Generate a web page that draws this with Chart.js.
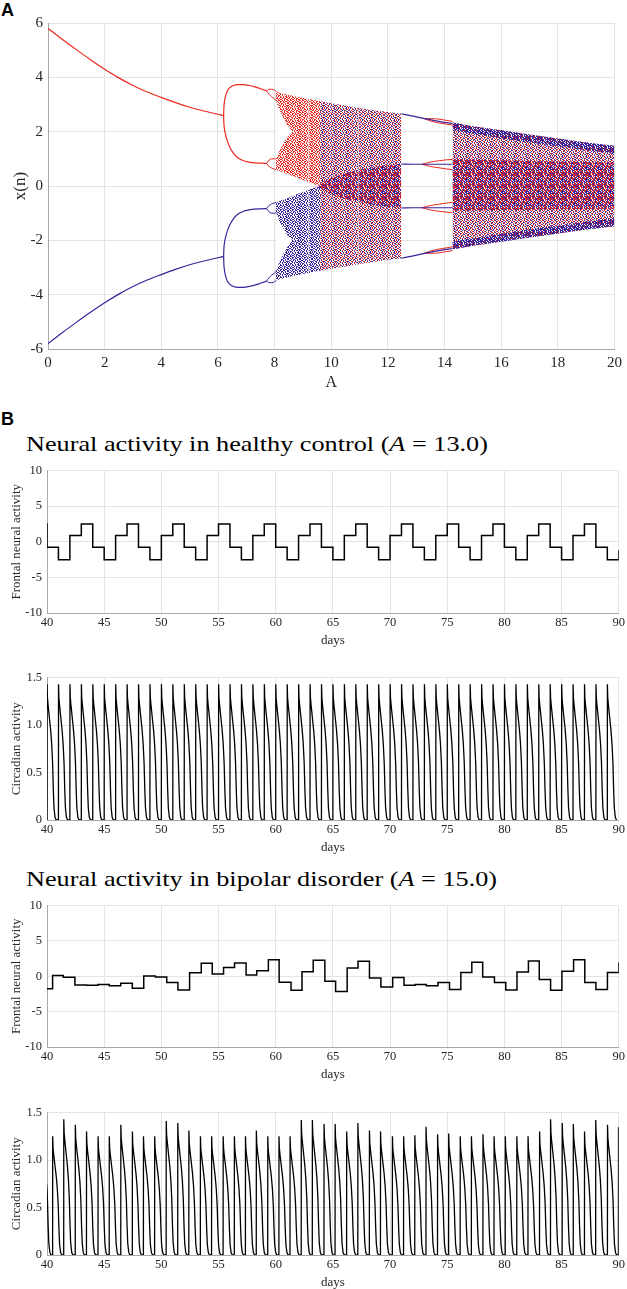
<!DOCTYPE html>
<html><head><meta charset="utf-8">
<script src="https://cdn.jsdelivr.net/npm/chart.js@4.4.1/dist/chart.umd.min.js"></script>
<style>
html,body{margin:0;padding:0;background:#fff;}
body{width:627px;height:1289px;position:relative;overflow:hidden;}
canvas{position:absolute;left:0;}
.lbl{position:absolute;font-family:"Liberation Sans",Arial,sans-serif;font-weight:bold;font-size:18px;color:#000;line-height:1;}
.ttl{position:absolute;font-family:"Liberation Serif","Times New Roman",serif;font-size:22px;color:#000;white-space:nowrap;line-height:1;transform-origin:0 50%;}
</style></head><body>
<div class="lbl" style="left:1px;top:1px;">A</div>
<div class="lbl" style="left:1px;top:410px;">B</div>
<div class="ttl" data-w="462" style="left:26px;top:433px;">Neural activity in healthy control (<i>A</i> = 13.0)</div>
<div class="ttl" data-w="471" style="left:26px;top:868px;">Neural activity in bipolar disorder (<i>A</i> = 15.0)</div>
<canvas id="cA" width="627" height="397" style="top:0px"></canvas>
<canvas id="cB1" width="627" height="195" style="top:458px"></canvas>
<canvas id="cB2" width="627" height="195" style="top:665px"></canvas>
<canvas id="cB3" width="627" height="194" style="top:893px"></canvas>
<canvas id="cB4" width="627" height="195" style="top:1100px"></canvas>
<script>
// ---------------- Panel A data (bifurcation diagram) ----------------
const p1A     = [0, 0.5, 1, 1.5, 2, 2.5, 3, 3.5, 4, 4.5, 5, 5.5, 6, 6.2];
const p1Red   = [5.8, 5.4, 5.02, 4.65, 4.3, 3.98, 3.7, 3.46, 3.26, 3.07, 2.9, 2.76, 2.64, 2.59];
const p1Blue  = [-5.8, -5.4, -5.02, -4.65, -4.3, -3.98, -3.7, -3.46, -3.26, -3.07, -2.9, -2.76, -2.64, -2.59];

const p2A      = [6.2, 6.21, 6.23, 6.27, 6.33, 6.42, 6.55, 6.7, 6.9, 7.1, 7.3, 7.5, 7.72];
const p2RedHi  = [2.59, 2.9, 3.1, 3.32, 3.5, 3.62, 3.7, 3.73, 3.73, 3.7, 3.65, 3.58, 3.5];
const p2RedLo  = [2.59, 2.3, 2.1, 1.88, 1.66, 1.43, 1.2, 1.04, 0.93, 0.88, 0.85, 0.84, 0.83];
const p2BlueHi = [-2.59, -2.3, -2.1, -1.88, -1.66, -1.43, -1.2, -1.04, -0.93, -0.88, -0.85, -0.84, -0.83];
const p2BlueLo = [-2.59, -2.9, -3.1, -3.32, -3.5, -3.62, -3.7, -3.73, -3.73, -3.7, -3.65, -3.58, -3.5];

const p4A         = [7.72, 7.8, 7.9, 8.0, 8.05];
const p4RedTopHi  = [3.5, 3.56, 3.56, 3.52, 3.48];
const p4RedTopLo  = [3.5, 3.38, 3.28, 3.2, 3.15];
const p4RedBotHi  = [0.83, 0.95, 1.0, 1.0, 0.98];
const p4RedBotLo  = [0.83, 0.72, 0.66, 0.62, 0.6];
const p4BlueTopHi = [-0.83, -0.72, -0.66, -0.62, -0.6];
const p4BlueTopLo = [-0.83, -0.95, -1.0, -1.0, -0.98];
const p4BlueBotHi = [-3.5, -3.38, -3.28, -3.2, -3.15];
const p4BlueBotLo = [-3.5, -3.56, -3.56, -3.52, -3.48];

const c1A       = [8.04, 8.3, 8.5, 8.7, 8.9, 9.1, 9.3, 9.5, 9.6];
const c1RedTop  = [3.48, 3.4, 3.35, 3.3, 3.26, 3.22, 3.18, 3.14, 3.12];
const c1RedBot  = [0.6, 0.5, 0.42, 0.34, 0.26, 0.18, 0.1, 0.03, 0.0];
const c1BlueTop = [-0.6, -0.5, -0.42, -0.34, -0.26, -0.18, -0.1, -0.03, 0.0];
const c1BlueBot = [-3.48, -3.4, -3.35, -3.3, -3.26, -3.22, -3.18, -3.14, -3.12];

const wedgeA       = [8.04, 8.15, 8.3, 8.45, 8.62];
const wedgeRedHi   = [3.15, 2.85, 2.5, 2.25, 2.0];
const wedgeRedLo   = [0.98, 1.25, 1.55, 1.8, 2.0];
const wedgeBlueHi  = [-0.98, -1.25, -1.55, -1.8, -2.0];
const wedgeBlueLo  = [-3.15, -2.85, -2.5, -2.25, -2.0];

const stripe1A      = [9.17, 9.23];
const stripe1RedHi  = [3.2, 3.19];
const stripe1RedLo  = [0.17, 0.14];
const stripe1BlueHi = [-0.17, -0.14];
const stripe1BlueLo = [-3.2, -3.19];
const stripe2A      = [10.93, 10.99];
const stripe2Hi     = [2.84, 2.83];
const stripe2Lo     = [-2.84, -2.83];

const c2A      = [9.55, 10, 10.5, 11, 11.5, 12, 12.47];
const c2Top    = [3.13, 3.05, 2.96, 2.87, 2.79, 2.72, 2.66];
const c2Bot    = [-3.13, -3.05, -2.96, -2.87, -2.79, -2.72, -2.66];
const c2InTop  = [0.05, 0.3, 0.47, 0.6, 0.7, 0.77, 0.82];
const c2InBot  = [-0.05, -0.3, -0.47, -0.6, -0.7, -0.77, -0.82];

const wA      = [12.47, 12.9, 13.3, 13.7, 14.0, 14.28];
const wTop    = [2.66, 2.57, 2.48, 2.4, 2.34, 2.3];
const wMidHi  = [0.81, 0.8, 0.8, 0.8, 0.8, 0.8];
const wMidLo  = [-0.81, -0.8, -0.8, -0.8, -0.8, -0.8];
const wBot    = [-2.66, -2.57, -2.48, -2.4, -2.34, -2.3];
const wlA       = [13.2, 13.5, 13.8, 14.05, 14.28];
const wlUpHi    = [0.8, 0.88, 0.93, 0.96, 0.98];
const wlUpLo    = [0.8, 0.72, 0.67, 0.63, 0.6];
const wlDnHi    = [-0.8, -0.72, -0.67, -0.63, -0.6];
const wlDnLo    = [-0.8, -0.88, -0.93, -0.96, -0.98];
const wtA       = [13.3, 13.55, 13.8, 14.05, 14.28];
const wtUpHi    = [2.47, 2.48, 2.46, 2.42, 2.38];
const wtUpLo    = [2.47, 2.38, 2.32, 2.28, 2.24];
const wtDnHi    = [-2.47, -2.38, -2.32, -2.28, -2.24];
const wtDnLo    = [-2.47, -2.48, -2.46, -2.42, -2.38];

const c3A        = [14.28, 15, 16, 17, 18, 19, 20];
const c3Top      = [2.34, 2.2, 2.05, 1.9, 1.75, 1.6, 1.48];
const c3TopIn    = [2.05, 1.92, 1.76, 1.6, 1.46, 1.32, 1.2];
const c3InTop    = [1.0, 0.98, 0.95, 0.92, 0.9, 0.88, 0.86];
const c3InBot    = [-0.9, -0.9, -0.88, -0.87, -0.86, -0.85, -0.84];
const c3BotIn    = [-2.05, -1.92, -1.76, -1.6, -1.46, -1.32, -1.2];
const c3Bot      = [-2.34, -2.2, -2.05, -1.9, -1.75, -1.6, -1.48];

const aTicks = {xmin: 0, xmax: 20, xstep: 2, ymin: -6, ymax: 6, ystep: 2};

// ---------------- Panel B data ----------------
// healthy frontal: step levels at integer days (level held from that day)
const days1 = [39,40,41,42,43,44,45,46,47,48,49,50,51,52,53,54,55,56,57,58,59,60,61,62,63,64,65,66,67,68,69,70,71,72,73,74,75,76,77,78,79,80,81,82,83,84,85,86,87,88,89,90];
const frontal1 = [2.49,
 -0.76,-2.53,0.89,2.49, -0.76,-2.53,0.89,2.49, -0.76,-2.53,0.89,2.49, -0.76,-2.53,0.89,2.49,
 -0.76,-2.53,0.89,2.49, -0.76,-2.53,0.89,2.49, -0.76,-2.53,0.89,2.49, -0.76,-2.53,0.89,2.49,
 -0.76,-2.53,0.89,2.49, -0.76,-2.53,0.89,2.49, -0.76,-2.53,0.89,2.49, -0.76,-2.53,0.89,2.49,
 -0.76,-2.53,-1.2];
// healthy circadian: pulse onset days and peak heights
const spikeDays1 = [40,41,42,43,44,45,46,47,48,49,50,51,52,53,54,55,56,57,58,59,60,61,62,63,64,65,66,67,68,69,70,71,72,73,74,75,76,77,78,79,80,81,82,83,84,85,86,87,88,89];
const spikeHeights1 = [1.43,1.43,1.43,1.43,1.43,1.43,1.43,1.43,1.43,1.43,1.43,1.43,1.43,1.43,1.43,1.43,1.43,1.43,1.43,1.43,1.43,1.43,1.43,1.43,1.43,1.43,1.43,1.43,1.43,1.43,1.43,1.43,1.43,1.43,1.43,1.43,1.43,1.43,1.43,1.43,1.43,1.43,1.43,1.43,1.43,1.43,1.43,1.43,1.43,1.43];
// bipolar frontal: step times and levels
const days2 = [40,40.49,41.42,42.44,43.45,44.46,45.45,46.45,47.46,48.46,49.48,50.47,51.45,52.47,53.49,54.45,55.44,56.4,57.41,58.34,59.36,60.3,61.34,62.3,63.28,64.3,65.24,66.25,67.2,68.2,69.2,70.23,71.22,72.2,73.17,74.19,75.2,76.19,77.15,78.1,79.13,80.12,81.1,82.1,83.05,84.04,85.03,86.05,87.03,88,89.01,90];
const frontal2 = [-1.76,0.09,-0.14,-1.22,-1.26,-1.17,-1.35,-0.99,-1.71,0.05,-0.09,-0.9,-1.94,0.5,1.85,0.32,1.22,1.89,0.18,0.77,2.34,-0.86,-1.98,0.63,2.25,-0.72,-2.16,1.17,2.12,-0.23,-1.53,-0.18,-1.26,-1.17,-1.35,-0.9,-1.89,0.54,1.98,-0.09,-0.9,-1.94,0.59,2.16,-0.45,-1.98,0.72,2.34,-0.9,-1.89,0.54,1.94];
// bipolar circadian
const spikeDays2 = [39.55,40.49,41.46,42.47,43.45,44.46,45.44,46.45,47.46,48.43,49.41,50.42,51.43,52.4,53.41,54.39,55.4,56.38,57.35,58.3,59.3,60.28,61.25,62.23,63.2,64.22,65.19,66.2,67.18,68.19,69.16,70.2,71.18,72.16,73.14,74.15,75.12,76.13,77.11,78.12,79.09,80.07,81.08,82.06,83.07,84.03,85.05,86.02,87.0,87.98,89.01,89.97];
const spikeHeights2 = [1.35,1.25,1.43,1.37,1.30,1.25,1.25,1.37,1.30,1.25,1.25,1.41,1.39,1.31,1.25,1.25,1.25,1.25,1.25,1.31,1.25,1.25,1.25,1.42,1.42,1.38,1.38,1.30,1.39,1.31,1.30,1.25,1.25,1.26,1.35,1.27,1.28,1.25,1.25,1.27,1.25,1.25,1.25,1.25,1.30,1.43,1.39,1.38,1.30,1.42,1.37,1.34];
// shape of one circadian pulse (days after onset, fraction of peak)
const spikeOffsets = [0, 0.008, 0.04, 0.09, 0.2, 0.32, 0.41, 0.49, 0.55, 0.61, 0.7, 0.8];
const spikeShape   = [0, 1, 0.9, 0.85, 0.76, 0.66, 0.56, 0.42, 0.23, 0.09, 0.02, 0];

const frontalTicks = {min: -10, max: 10, step: 5};
const circTicks = {min: 0, max: 1.5, step: 0.5};
const dayTicks = {min: 40, max: 90, step: 5};

// ---------------- helpers ----------------
const RED = '#ea2a1f', BLUE = '#38239a';
const SERIF = '"Liberation Serif","Times New Roman",serif';
function pts(xs, ys) { return xs.map((x, i) => ({x: x, y: ys[i]})); }
function tile(rows, map) {
  const c = document.createElement('canvas');
  c.width = rows[0].length; c.height = rows.length;
  const g = c.getContext('2d');
  rows.forEach((r, y) => { for (let x = 0; x < r.length; x++) { const col = map[r[x]]; if (col) { g.fillStyle = col; g.fillRect(x, y, 1, 1); } } });
  return g.createPattern(c, 'repeat');
}
const lightRows = [
"r.b.r..b.rb.",
".b..rb.r..br",
"br.r..b.br..",
"..b.rb..r.bb",
"r.rb..r.b..r",
".b..br.r.rb.",
"b.r.r..bb..r",
"r..b.rb..r.b",
".rb..b.r.b..",
"b..rr..b..rb",
".b..b.r.rb.r",
"r.br..b...b."];
const denseRows = [
"rb..brbr.bb.",
"b.rb.b.rb..b",
"r..brrb.bbr.",
".rb..br.b.rb",
"br.rbb..rbr.",
"r.b.r.br..bb",
"bb..rb..brr.",
".rbr..rbb.rb",
"rb.b.r.b.br.",
"b.r.b.rbr..b",
".br.br.b.rbr",
"b..r.rb.rb.b"];
const patRed = tile(lightRows, {r: RED, b: RED});
const patBlue = tile(lightRows, {r: BLUE, b: BLUE});
const patMix = tile(lightRows, {r: RED, b: BLUE});
const patDense = tile(denseRows, {r: RED, b: BLUE});
const patDenseBlue = tile(denseRows, {r: BLUE, b: BLUE});

function line(xs, ys, color, w) {
  return {data: pts(xs, ys), borderColor: color, borderWidth: w || 1.2, pointRadius: 0, fill: false, cubicInterpolationMode: 'monotone'};
}
function band(xs, top, bot, pattern) {
  return [
    {data: pts(xs, top), borderColor: 'rgba(0,0,0,0)', borderWidth: 0, pointRadius: 0, backgroundColor: pattern, fill: '+1'},
    {data: pts(xs, bot), borderColor: 'rgba(0,0,0,0)', borderWidth: 0, pointRadius: 0, fill: false}
  ];
}
function axisCfg(o) {
  return {
    type: 'linear', min: o.min, max: o.max,
    afterFit: o.fit,
    grid: {color: '#e4e4e4', drawTicks: false, lineWidth: 1},
    border: {display: true, color: '#a8a8a8', width: 1},
    ticks: {stepSize: o.step, autoSkip: false, maxRotation: 0, padding: o.tickPad, color: '#262626', font: {family: SERIF, size: o.tickSize}},
    title: {display: true, text: o.title, color: '#262626', font: {family: SERIF, size: o.titleSize}, padding: o.titlePad}
  };
}
function makeChart(id, datasets, xo, yo, pad) {
  return new Chart(document.getElementById(id), {
    type: 'line',
    data: {datasets: datasets},
    options: {
      responsive: false, animation: false, events: [],
      layout: {padding: pad},
      plugins: {legend: {display: false}, tooltip: {enabled: false}, title: {display: false}},
      elements: {point: {radius: 0}},
      scales: {x: axisCfg(xo), y: axisCfg(yo)}
    }
  });
}
function spikeSeries(days, heights) {
  const out = [];
  days.forEach((t, i) => spikeOffsets.forEach((o, k) => out.push({x: t + o, y: heights[i] * spikeShape[k]})));
  return out;
}

// ---------------- Panel A chart ----------------
const WHITE = '#ffffff', HALFWHITE = 'rgba(255,255,255,0.55)';
const dsA = [
  line(p1A, p1Red, RED), line(p1A, p1Blue, BLUE),
  line(p2A, p2RedHi, RED), line(p2A, p2RedLo, RED), line(p2A, p2BlueHi, BLUE), line(p2A, p2BlueLo, BLUE),
  line(p4A, p4RedTopHi, RED, 1), line(p4A, p4RedTopLo, RED, 1), line(p4A, p4RedBotHi, RED, 1), line(p4A, p4RedBotLo, RED, 1),
  line(p4A, p4BlueTopHi, BLUE, 1), line(p4A, p4BlueTopLo, BLUE, 1), line(p4A, p4BlueBotHi, BLUE, 1), line(p4A, p4BlueBotLo, BLUE, 1),
  line(wA, wTop, BLUE), line(wA, wMidHi, BLUE), line(wA, wMidLo, BLUE), line(wA, wBot, BLUE),
  line(wlA, wlUpHi, RED, 1), line(wlA, wlUpLo, RED, 1), line(wlA, wlDnHi, RED, 1), line(wlA, wlDnLo, RED, 1),
  line(wtA, wtUpHi, RED, 1), line(wtA, wtUpLo, RED, 1), line(wtA, wtDnHi, RED, 1), line(wtA, wtDnLo, RED, 1),
  ...band(wedgeA, wedgeRedHi, wedgeRedLo, WHITE),
  ...band(wedgeA, wedgeBlueHi, wedgeBlueLo, WHITE),
  ...band(stripe1A, stripe1RedHi, stripe1RedLo, HALFWHITE),
  ...band(stripe1A, stripe1BlueHi, stripe1BlueLo, HALFWHITE),
  ...band(stripe2A, stripe2Hi, stripe2Lo, HALFWHITE),
  ...band(c3A, c3Top, c3TopIn, patDenseBlue),
  ...band(c3A, c3BotIn, c3Bot, patDenseBlue),
  ...band(c3A, c3InTop, c3InBot, patDense),
  ...band(c2A, c2InTop, c2InBot, patDense),
  ...band(c1A, c1RedTop, c1RedBot, patRed),
  ...band(c1A, c1BlueTop, c1BlueBot, patBlue),
  ...band(c2A, c2Top, c2Bot, patMix),
  ...band(c3A, c3Top, c3Bot, patMix)
];
makeChart('cA', dsA,
  {min: aTicks.xmin, max: aTicks.xmax, step: aTicks.xstep, title: 'A', tickSize: 15, titleSize: 16, tickPad: 5, titlePad: {top: 0, bottom: 5}, fit: s => { s.height = 48; }},
  {min: aTicks.ymin, max: aTicks.ymax, step: aTicks.ystep, title: 'x(n)', tickSize: 15, titleSize: 17, tickPad: 5, titlePad: {top: 10, bottom: 0}, fit: s => { s.width = 48; }},
  {left: 0, right: 7, top: 23, bottom: 0});

// ---------------- Panel B charts ----------------
function bX(title) { return {min: dayTicks.min, max: dayTicks.max, step: dayTicks.step, title: title, tickSize: 12.5, titleSize: 13, tickPad: 2, titlePad: {top: 0, bottom: 5}, fit: s => { s.height = 40; }}; }
function bY(t, title) { return {min: t.min, max: t.max, step: t.step, title: title, tickSize: 12.5, titleSize: 13, tickPad: 5, titlePad: {top: 9, bottom: 0}, fit: s => { s.width = 47; }}; }
const padB = {left: 0, right: 6, top: 6, bottom: 0};

makeChart('cB1', [{data: pts(days1, frontal1), stepped: true, borderColor: '#000', borderWidth: 1.5, pointRadius: 0, fill: false}],
  bX('days'), bY(frontalTicks, 'Frontal neural activity'), padB);
makeChart('cB2', [{data: spikeSeries(spikeDays1, spikeHeights1), borderColor: '#000', borderWidth: 1.3, pointRadius: 0, fill: false, tension: 0.0001}],
  bX('days'), bY(circTicks, 'Circadian activity'), padB);
makeChart('cB3', [{data: pts(days2, frontal2), stepped: true, borderColor: '#000', borderWidth: 1.5, pointRadius: 0, fill: false}],
  bX('days'), bY(frontalTicks, 'Frontal neural activity'), padB);
makeChart('cB4', [{data: spikeSeries(spikeDays2, spikeHeights2), borderColor: '#000', borderWidth: 1.3, pointRadius: 0, fill: false, tension: 0.0001}],
  bX('days'), bY(circTicks, 'Circadian activity'), padB);

// stretch the LaTeX-style titles to the reference widths
document.querySelectorAll('.ttl').forEach(el => {
  const w = el.getBoundingClientRect().width;
  const target = parseFloat(el.dataset.w);
  if (w > 0) el.style.transform = 'scaleX(' + (target / w).toFixed(3) + ')';
});
</script>
</body></html>
